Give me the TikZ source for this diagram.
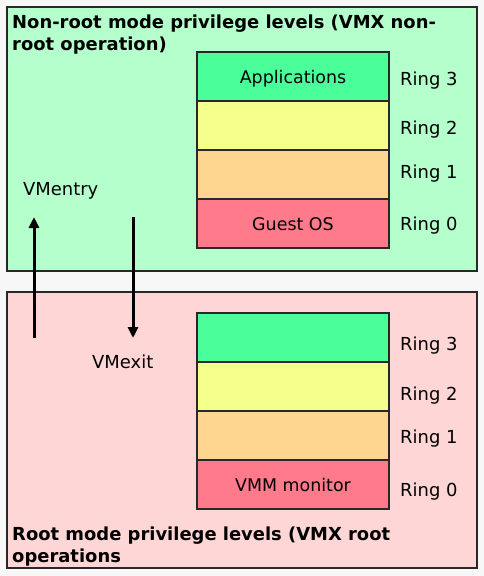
\documentclass[tikz,border=0pt]{standalone}
\usepackage{fontspec}
\setmainfont{DejaVu Sans}
\usetikzlibrary{arrows.meta}
\definecolor{bgcol}{RGB}{247,247,247}
\definecolor{topfill}{RGB}{181,255,204}
\definecolor{botfill}{RGB}{255,214,214}
\definecolor{rthree}{RGB}{74,255,153}
\definecolor{rtwo}{RGB}{245,255,140}
\definecolor{rone}{RGB}{255,214,143}
\definecolor{rzero}{RGB}{255,122,138}
\definecolor{edgecol}{RGB}{40,40,40}
\tikzset{
  regionbox/.style={draw=edgecol, line width=1.3bp, minimum width=470bp, inner sep=0pt, outer sep=0pt},
  ringbox/.style={draw=edgecol, line width=1.3bp, minimum width=192bp, minimum height=49bp, inner sep=0pt, outer sep=0pt, text height=13.2bp, text depth=0pt, font=\fontsize{17.5}{20}\selectfont},
  ringlabel/.style={anchor=base west, inner sep=0pt, font=\fontsize{18}{20}\selectfont},
  titletext/.style={anchor=north west, align=left, inner sep=0pt, font=\fontsize{18}{22}\selectfont\bfseries},
  plainlabel/.style={anchor=base west, inner sep=0pt, font=\fontsize{18}{20}\selectfont},
  vmarrow/.style={draw=black, line width=3bp, -{Triangle[width=10bp,length=11bp]}}
}
\begin{document}
\begin{tikzpicture}[x=1bp,y=-1bp]
\fill[bgcol] (0,0) rectangle (484,576);
\useasboundingbox (0,0) rectangle (484,576);
% regions
\node[regionbox, fill=topfill, minimum height=264bp] (nonroot) at (242,139) {};
\node[regionbox, fill=botfill, minimum height=276bp] (root) at (242,430) {};
% titles
\node[titletext] (nrtitle) at (12,15) {Non-root mode privilege levels (VMX non-\\root operation)};
\node[titletext] (rtitle) at (12,527) {Root mode privilege levels (VMX root\\operations};
% guest rings
\node[ringbox, fill=rthree] (g3) at (293,76.5) {Applications};
\node[ringbox, fill=rtwo] (g2) at (293,125.5) {};
\node[ringbox, fill=rone] (g1) at (293,174.5) {};
\node[ringbox, fill=rzero] (g0) at (293,223.5) {Guest OS};
\node[ringlabel] (gl3) at (400,85.5) {Ring 3};
\node[ringlabel] (gl2) at (400,135) {Ring 2};
\node[ringlabel] (gl1) at (400,178) {Ring 1};
\node[ringlabel] (gl0) at (400,230.5) {Ring 0};
% host rings
\node[ringbox, fill=rthree] (h3) at (293,337.5) {};
\node[ringbox, fill=rtwo] (h2) at (293,386.5) {};
\node[ringbox, fill=rone] (h1) at (293,435.5) {};
\node[ringbox, fill=rzero] (h0) at (293,484.5) {VMM monitor};
\node[ringlabel] (hl3) at (400,350.5) {Ring 3};
\node[ringlabel] (hl2) at (400,400) {Ring 2};
\node[ringlabel] (hl1) at (400,443) {Ring 1};
\node[ringlabel] (hl0) at (400,496) {Ring 0};
% transitions
\node[plainlabel] (entry) at (23,195) {VMentry};
\node[plainlabel] (exit) at (92,368) {VMexit};
\coordinate (entryfrom) at (34,338);
\coordinate (entryto) at (34,217);
\coordinate (exitfrom) at (133,217);
\coordinate (exitto) at (133,338);
\draw[vmarrow] (entryfrom) -- (entryto);
\draw[vmarrow] (exitfrom) -- (exitto);
\end{tikzpicture}
\end{document}
